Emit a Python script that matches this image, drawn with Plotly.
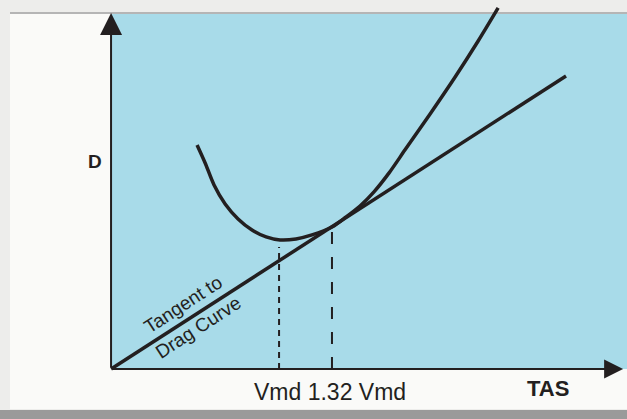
import plotly.graph_objects as go

# curva de arrasto, Vmd = 1
velocidade = [0.512, 0.560, 0.613, 0.679, 0.756, 0.839, 0.923, 1.006, 1.101,
              1.196, 1.315, 1.399, 1.482, 1.565, 1.655, 1.750, 1.899, 2.048,
              2.185, 2.304]
arrasto = [1.333, 1.226, 1.095, 0.982, 0.893, 0.827, 0.786, 0.768, 0.774,
           0.798, 0.845, 0.905, 0.970, 1.054, 1.167, 1.304, 1.518, 1.738,
           1.952, 2.149]

tangente_x = [0.0, 2.708]
tangente_y = [0.0, 1.744]

vmd_x = [1.0, 1.0]
vmd_y = [0.0, 0.726]
vmd132_x = [1.315, 1.315]
vmd132_y = [0.0, 0.815]

AZUL = "#a8dbe9"
TINTA = "#231f20"
FONTE = "Liberation Sans, Arial, sans-serif"


def px_x(p):
    return p / 627


def px_y(p):
    return 1 - p / 419


def plotar_arrasto() -> go.Figure:
    fig = go.Figure()
    fig.add_trace(go.Scatter(x=tangente_x, y=tangente_y, mode="lines",
                             line=dict(color=TINTA, width=3.5)))
    fig.add_trace(go.Scatter(x=velocidade, y=arrasto, mode="lines",
                             line=dict(color=TINTA, width=3.5, shape="spline", smoothing=0.8)))
    fig.add_trace(go.Scatter(x=vmd_x, y=vmd_y, mode="lines",
                             line=dict(color=TINTA, width=2, dash="6px,5px")))
    fig.add_trace(go.Scatter(x=vmd132_x, y=vmd132_y, mode="lines",
                             line=dict(color=TINTA, width=2, dash="12px,13px")))

    fig.add_shape(type="rect", xref="paper", yref="paper", layer="below",
                  x0=px_x(10), x1=1, y0=px_y(409), y1=px_y(13),
                  fillcolor="#fafaf8", line_width=0)
    fig.add_shape(type="rect", xref="paper", yref="paper", layer="below",
                  x0=px_x(111), x1=1, y0=px_y(369), y1=px_y(13),
                  fillcolor=AZUL, line_width=0)
    fig.add_shape(type="line", xref="paper", yref="paper", layer="below",
                  x0=px_x(10), x1=1, y0=px_y(13), y1=px_y(13),
                  line=dict(color="#b5b5b5", width=2))
    fig.add_shape(type="rect", xref="paper", yref="paper", layer="below",
                  x0=0, x1=1, y0=0, y1=px_y(410),
                  fillcolor="#9a9a9a", line_width=0)

    # eixos com setas
    fig.add_annotation(x=0, y=2.119, ax=0, ay=0, xref="x", yref="y", axref="x", ayref="y",
                       text="", showarrow=True, arrowhead=2, arrowsize=2.2,
                       arrowwidth=2, arrowcolor=TINTA)
    fig.add_annotation(x=3.048, y=0, ax=0, ay=0, xref="x", yref="y", axref="x", ayref="y",
                       text="", showarrow=True, arrowhead=2, arrowsize=1.9,
                       arrowwidth=2, arrowcolor=TINTA)

    textos = [
        dict(x=-0.095, y=1.232, text="<b>D</b>", font=dict(size=19)),
        dict(x=2.601, y=-0.119, text="<b>TAS</b>", font=dict(size=22)),
        dict(x=1.304, y=-0.137, text="Vmd 1.32 Vmd", font=dict(size=23)),
        dict(x=0.429, y=0.381, text="Tangent to", font=dict(size=19), textangle=-33),
        dict(x=0.518, y=0.244, text="Drag Curve", font=dict(size=19), textangle=-33),
    ]
    for t in textos:
        t["font"].update(family=FONTE, color=TINTA)
        fig.add_annotation(xref="x", yref="y", showarrow=False, **t)

    fig.update_xaxes(range=[-0.661, 3.071], visible=False, fixedrange=True)
    fig.update_yaxes(range=[-0.298, 2.196], visible=False, fixedrange=True)
    fig.update_layout(
        width=627, height=419,
        margin=dict(l=0, r=0, t=0, b=0),
        paper_bgcolor="#ededeb", plot_bgcolor="rgba(0,0,0,0)",
        showlegend=False,
    )
    return fig


fig = plotar_arrasto()
fig.write_html("out.html", config={"displayModeBar": False},
               post_script="document.body.style.margin='0';")
